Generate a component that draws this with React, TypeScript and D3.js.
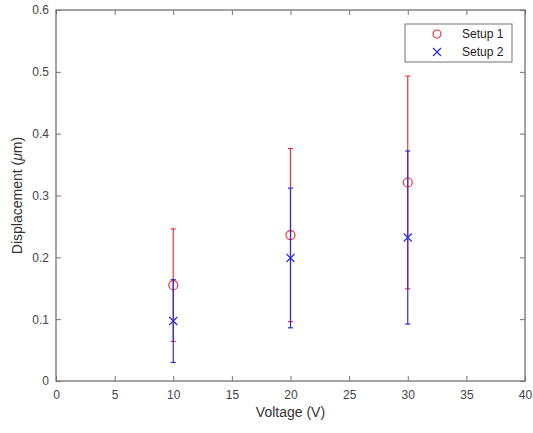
import React, { useEffect, useRef } from 'react';
import * as d3 from 'd3';

// values
const voltages = [10, 20, 30];
const setup1Mean = [0.155, 0.236, 0.321];
const setup1Err = [0.091, 0.14, 0.172];
const setup2Mean = [0.097, 0.199, 0.232];
const setup2Err = [0.067, 0.113, 0.14];
const xTicks = [0, 5, 10, 15, 20, 25, 30, 35, 40];
const yTicks = [0, 0.1, 0.2, 0.3, 0.4, 0.5, 0.6];
const seriesNames = ['Setup 1', 'Setup 2'];

export default function App() {
  const ref = useRef<SVGSVGElement>(null);

  useEffect(() => {
    const svg = d3.select(ref.current);
    svg.selectAll('*').remove();

    const width = 533;
    const height = 433;
    const margin = { top: 10, right: 8, bottom: 52, left: 56 };
    const w = width - margin.left - margin.right;
    const h = height - margin.top - margin.bottom;
    const axisColor = '#737373';
    const font = '"Liberation Sans", Arial, sans-serif';

    const g = svg.append('g').attr('transform', `translate(${margin.left},${margin.top})`);

    const x = d3.scaleLinear().domain([0, 40]).range([0, w]);
    const y = d3.scaleLinear().domain([0, 0.6]).range([h, 0]);

    // box
    g.append('rect')
      .attr('width', w).attr('height', h)
      .attr('fill', 'none').attr('stroke', axisColor).attr('stroke-width', 1.3);

    // bottom axis, ticks inward
    const xAxis = g.append('g')
      .attr('transform', `translate(0,${h})`)
      .call(d3.axisBottom(x).tickValues(xTicks).tickSize(-5).tickPadding(9).tickFormat(d3.format('d')));
    // top ticks
    const xTop = g.append('g')
      .call(d3.axisTop(x).tickValues(xTicks).tickSize(-5).tickFormat(() => ''));
    const yAxis = g.append('g')
      .call(d3.axisLeft(y).tickValues(yTicks).tickSize(-5).tickPadding(7).tickFormat(d => String(+d)));
    const yRight = g.append('g')
      .attr('transform', `translate(${w},0)`)
      .call(d3.axisRight(y).tickValues(yTicks).tickSize(-5).tickFormat(() => ''));

    [xAxis, xTop, yAxis, yRight].forEach(a => {
      a.select('.domain').remove();
      a.selectAll('line').attr('stroke', axisColor);
      a.selectAll('text').attr('fill', '#444').attr('font-size', 12).attr('font-family', font);
    });

    // error bars + markers
    const capW = 2.5;
    const drawSeries = (means: number[], errs: number[], color: string, marker: 'o' | 'x') => {
      const s = g.append('g');
      voltages.forEach((v, i) => {
        const cx = x(v);
        const lo = y(means[i] - errs[i]);
        const hi = y(means[i] + errs[i]);
        s.append('line').attr('x1', cx).attr('x2', cx).attr('y1', lo).attr('y2', hi)
          .attr('stroke', color).attr('stroke-width', 1.2);
        [lo, hi].forEach(yy => {
          s.append('line').attr('x1', cx - capW).attr('x2', cx + capW).attr('y1', yy).attr('y2', yy)
            .attr('stroke', color).attr('stroke-width', 1.2);
        });
      });
      voltages.forEach((v, i) => {
        const cx = x(v);
        const cy = y(means[i]);
        if (marker === 'o') {
          s.append('circle').attr('cx', cx).attr('cy', cy).attr('r', 4.5)
            .attr('fill', 'none').attr('stroke', color).attr('stroke-width', 1.2);
        } else {
          s.append('path').attr('d', `M${cx - 4},${cy - 4}L${cx + 4},${cy + 4}M${cx - 4},${cy + 4}L${cx + 4},${cy - 4}`)
            .attr('stroke', color).attr('stroke-width', 1.2);
        }
      });
    };
    drawSeries(setup1Mean, setup1Err, '#e8323c', 'o');
    drawSeries(setup2Mean, setup2Err, '#2b2bd6', 'x');

    // legend
    const lg = g.append('g').attr('transform', `translate(${405 - margin.left},${24 - margin.top})`);
    lg.append('rect').attr('width', 107).attr('height', 38)
      .attr('fill', 'white').attr('stroke', axisColor).attr('stroke-width', 1);
    seriesNames.forEach((name, i) => {
      const cy = 10 + i * 18;
      if (i === 0) {
        lg.append('circle').attr('cx', 32).attr('cy', cy).attr('r', 4)
          .attr('fill', 'none').attr('stroke', '#e8323c').attr('stroke-width', 1.2);
      } else {
        lg.append('path').attr('d', `M28,${cy - 4}L36,${cy + 4}M28,${cy + 4}L36,${cy - 4}`)
          .attr('stroke', '#2b2bd6').attr('stroke-width', 1.2);
      }
      lg.append('text').attr('x', 57).attr('y', cy).attr('dy', '0.35em')
        .attr('font-size', 12).attr('font-family', font).attr('fill', '#222').text(name);
    });

    // axis labels
    svg.append('text')
      .attr('x', margin.left + w / 2).attr('y', 417)
      .attr('text-anchor', 'middle').attr('font-size', 14).attr('font-family', font).attr('fill', '#333')
      .text('Voltage (V)');
    const yl = svg.append('text')
      .attr('transform', `translate(22,${margin.top + h / 2}) rotate(-90)`)
      .attr('text-anchor', 'middle').attr('font-size', 14).attr('font-family', font).attr('fill', '#333');
    yl.append('tspan').text('Displacement (');
    yl.append('tspan').attr('font-style', 'italic').text('μ');
    yl.append('tspan').text('m)');
  }, []);

  return (
    <svg ref={ref} width={533} height={433}
      style={{ position: 'absolute', left: 0, top: 0, background: 'white', display: 'block' }} />
  );
}
